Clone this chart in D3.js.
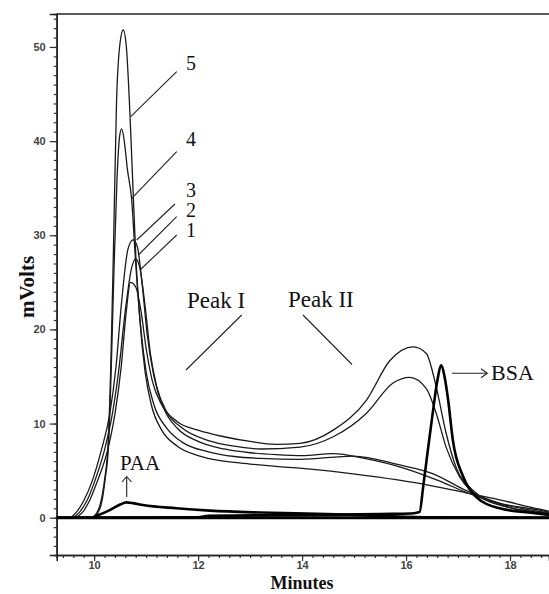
<!DOCTYPE html>
<html><head><meta charset="utf-8">
<script src="https://cdn.jsdelivr.net/npm/d3@7"></script>
<style>
html,body{margin:0;padding:0;background:#fff;}
svg{display:block;}
</style></head>
<body>
<svg id="chart" width="549" height="594"></svg>
<script>
// ---------- data ----------
const xTicks = [10, 12, 14, 16, 18];
const yTicks = [0, 10, 20, 30, 40, 50];

const curve1 = [[9.65,0],[9.78,0.6],[9.92,1.9],[10.05,3.7],[10.26,7.2],[10.4,11],[10.52,16],[10.62,22],[10.7,25],[10.8,24.5],[10.9,22],[11.0,18],[11.12,14.5],[11.3,12],[11.6,10.2],[12.0,9.3],[12.5,8.6],[13.0,8.1],[13.5,7.8],[13.96,7.9],[14.6,9.3],[15.24,12.5],[15.69,16.7],[16.14,18.15],[16.39,17.45],[16.58,13.9],[16.77,9],[16.96,5.4],[17.29,2.9],[17.92,1.2],[18.75,0.45]];
const curve2 = [[9.6,0],[9.72,0.6],[9.87,1.9],[10.0,3.7],[10.2,7.2],[10.35,11],[10.47,15.5],[10.6,22],[10.72,26.5],[10.8,27.5],[10.88,26.5],[10.98,22.5],[11.08,17.5],[11.2,14],[11.4,11.2],[11.7,9.5],[12.2,8.2],[12.7,7.6],[13.2,7.3],[13.96,7.5],[14.6,8.6],[15.24,11.1],[15.75,14.3],[16.07,14.9],[16.39,13.7],[16.58,11.1],[16.77,7.5],[17.03,4.35],[17.42,2.2],[18.06,1.0],[18.75,0.45]];
const curve3 = [[9.55,0],[9.66,0.6],[9.8,1.8],[9.95,3.7],[10.14,7.2],[10.3,11],[10.42,16],[10.53,23],[10.65,28.5],[10.75,29.5],[10.83,28.8],[10.92,25],[11.02,19.5],[11.15,15],[11.35,11.5],[11.6,9.5],[12.0,8.1],[12.5,7.3],[13,6.9],[13.5,6.7],[14,6.6],[14.6,6.8],[15.2,6.3],[16,5.2],[16.6,4.0],[17.2,2.6],[17.8,1.5],[18.75,0.5]];
const curve4 = [[9.97,0],[10.07,0.5],[10.14,1.5],[10.21,4],[10.28,8],[10.33,16],[10.38,26],[10.44,36],[10.49,40.5],[10.53,41.3],[10.58,40],[10.64,37],[10.72,33.9],[10.8,27],[10.9,20],[11.0,15.5],[11.15,12],[11.4,9.5],[11.7,8],[12.2,7.0],[12.7,6.5],[13.2,6.3],[13.96,6.2],[14.98,6.55],[15.88,5.6],[16.5,4.7],[17.15,2.9],[17.8,1.55],[18.57,0.8],[18.75,0.6]];
const curve5 = [[9.95,0],[10.05,0.5],[10.12,1.5],[10.2,4],[10.27,8],[10.32,16],[10.37,28],[10.43,44],[10.5,50.5],[10.56,51.8],[10.62,50],[10.68,44],[10.74,36],[10.8,28],[10.88,21],[10.98,15.5],[11.1,12],[11.3,9.3],[11.6,7.6],[12.0,6.6],[12.5,6.0],[13,5.7],[13.5,5.45],[14,5.24],[15.2,4.5],[16.2,3.7],[17.15,2.65],[17.8,1.9],[18.57,0.9],[18.75,0.7]];
const paa = [[9.28,0],[9.95,0],[10.05,0.2],[10.3,0.8],[10.5,1.4],[10.62,1.63],[10.75,1.55],[10.94,1.35],[11.58,1.0],[12.23,0.75],[13.19,0.55],[14.47,0.4],[15.5,0.2],[16.5,0.05],[18.75,0]];
const bsa = [[9.28,0],[12.0,0.05],[12.2,0.2],[13.2,0.25],[14.5,0.3],[15.5,0.4],[16.1,0.45],[16.26,0.6],[16.33,3.3],[16.42,7.2],[16.52,11.4],[16.6,14.5],[16.68,16.2],[16.74,15],[16.81,12.5],[16.9,8.25],[17.1,4.35],[17.35,2.2],[17.8,1.0],[18.44,0.5],[18.75,0.3]];
const baseline = [[9.28,0],[18.75,0]];

// ---------- layout ----------
const svg = d3.select("#chart");
const x = d3.scaleLinear().domain([9.28, 18.75]).range([56.7, 549]);
const y = d3.scaleLinear().domain([-3.96, 53.5]).range([555, 14]);

// axes
const fontTick = "'Liberation Sans', Arial, sans-serif";
const ax = svg.append("g").attr("transform", "translate(0,555)");
ax.call(d3.axisBottom(x).tickValues(d3.range(9.4, 18.75, 0.2)).tickSize(3).tickFormat(""));
const ax2 = svg.append("g").attr("transform", "translate(0,555)");
ax2.call(d3.axisBottom(x).tickValues(xTicks).tickSize(6).tickFormat(d3.format("d")));
const ay = svg.append("g").attr("transform", "translate(56.7,0)");
ay.call(d3.axisLeft(y).tickValues(d3.range(-3, 54, 1)).tickSize(3).tickFormat(""));
const ay2 = svg.append("g").attr("transform", "translate(56.7,0)");
ay2.call(d3.axisLeft(y).tickValues(yTicks).tickSize(7).tickFormat(d3.format("d")));
svg.selectAll(".domain").attr("stroke", "#222").attr("stroke-width", 1.6);
svg.selectAll(".tick line").attr("stroke", "#333").attr("stroke-width", 1.2);
svg.selectAll(".tick text").attr("font-family", fontTick).attr("font-size", 11)
  .attr("font-weight", "bold").attr("fill", "#444");
ax2.selectAll(".tick text").attr("y", 5).attr("dy", "0.8em");
ay2.selectAll(".tick text").attr("dx", "-1px");

// top border
svg.append("line").attr("x1", 56.7).attr("x2", 549).attr("y1", 14).attr("y2", 14)
  .attr("stroke", "#222").attr("stroke-width", 1.6);

// curves
const line = d3.line().x(d => x(d[0])).y(d => y(d[1])).curve(d3.curveMonotoneX);
const thin = [curve1, curve2, curve3, curve4, curve5];
svg.append("path").datum(baseline).attr("d", line).attr("fill", "none")
  .attr("stroke", "#000").attr("stroke-width", 3);
thin.forEach(c => {
  svg.append("path").datum(c).attr("d", line).attr("fill", "none")
    .attr("stroke", "#1a1a1a").attr("stroke-width", 1.3);
});
svg.append("path").datum(paa).attr("d", line).attr("fill", "none")
  .attr("stroke", "#000").attr("stroke-width", 2.6);
svg.append("path").datum(bsa).attr("d", line).attr("fill", "none")
  .attr("stroke", "#000").attr("stroke-width", 2.6);

// annotations
const serif = "'Liberation Serif', 'Times New Roman', serif";
function txt(t, px, py, size, anchor) {
  svg.append("text").attr("x", px).attr("y", py).attr("font-family", serif)
    .attr("font-size", size).attr("fill", "#111").attr("text-anchor", anchor || "start").text(t);
}
function seg(x1, y1, x2, y2, w) {
  svg.append("line").attr("x1", x1).attr("y1", y1).attr("x2", x2).attr("y2", y2)
    .attr("stroke", "#222").attr("stroke-width", w || 1.1);
}
txt("5", 186, 70, 20); seg(176.7, 71.7, 130.7, 116.7);
txt("4", 186, 146, 20); seg(176.7, 151.7, 131.7, 198.3);
txt("3", 186, 197, 20); seg(175, 204, 136.7, 240);
txt("2", 186, 217, 20); seg(176.7, 216.7, 138.3, 255);
txt("1", 186, 237, 20); seg(176.7, 235, 140, 270);
txt("Peak I", 187, 308, 23); seg(241.7, 315, 186, 370);
txt("Peak II", 288, 307, 23); seg(303, 315, 352, 364.5);
txt("PAA", 120, 470, 21);
seg(126.7, 497, 126.7, 477);
svg.append("path").attr("d", "M122,482 L126.7,476.5 L131.4,482").attr("fill", "none").attr("stroke", "#222").attr("stroke-width", 1.1);
txt("BSA", 491, 380, 22);
seg(452, 373.3, 487, 373.3);
svg.append("path").attr("d", "M481,368.8 L487.3,373.3 L481,377.8").attr("fill", "none").attr("stroke", "#222").attr("stroke-width", 1.1);

// axis titles
svg.append("text").attr("transform", "translate(34,287) rotate(-90)").attr("text-anchor", "middle")
  .attr("font-family", serif).attr("font-size", 21).attr("font-weight", "bold").attr("fill", "#111").text("mVolts");
svg.append("text").attr("x", 302).attr("y", 589).attr("text-anchor", "middle")
  .attr("font-family", serif).attr("font-size", 18).attr("font-weight", "bold").attr("fill", "#111").text("Minutes");
</script>
</body></html>
